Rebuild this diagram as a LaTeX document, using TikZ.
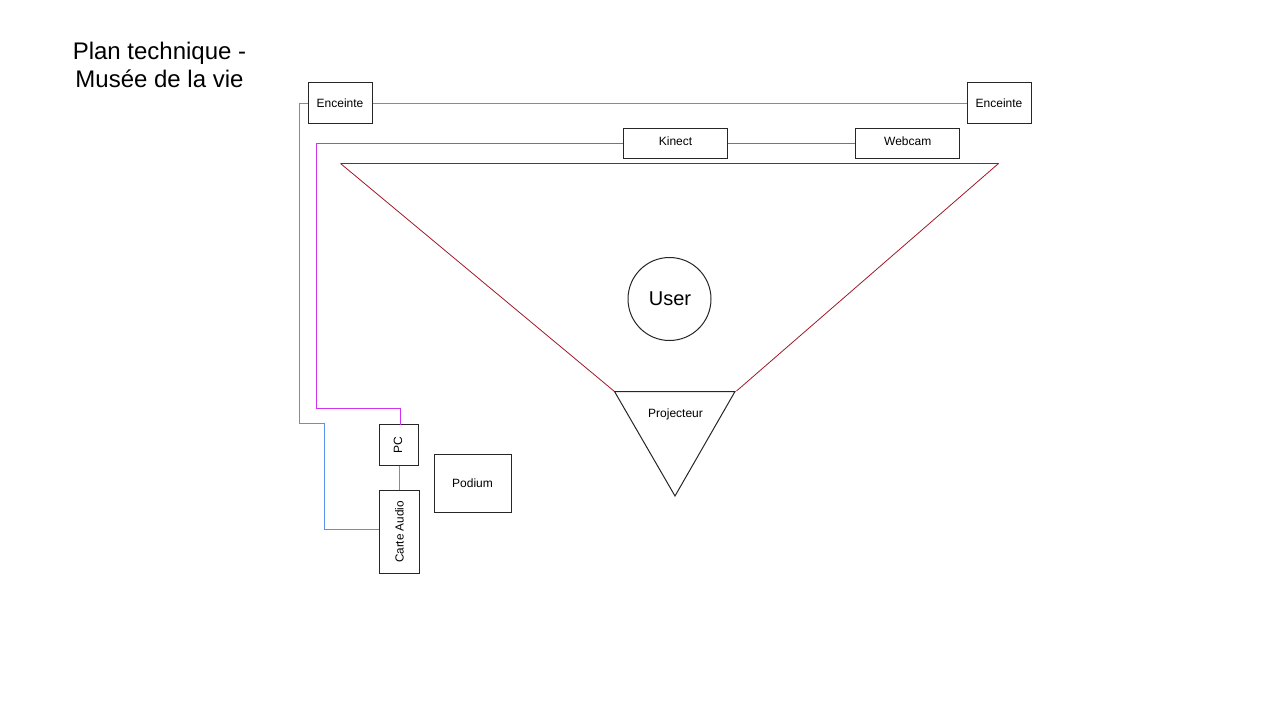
\documentclass[tikz,border=0pt]{standalone}
\usepackage{fontspec}
\setmainfont{Liberation Sans}
\definecolor{wireblue}{HTML}{5B8FF0}
\definecolor{wirepurple}{HTML}{D030F0}
\definecolor{beamred}{HTML}{A01828}
\definecolor{topred}{HTML}{E00000}
\tikzset{
  boxnode/.style={draw=black!85,line width=0.75pt,inner sep=0pt,font=\fontsize{9}{11}\selectfont,fill=white},
  bluewire/.style={draw=wireblue,line width=0.75pt},
  purplewire/.style={draw=wirepurple,line width=0.75pt},
  beam/.style={draw=beamred,line width=0.6pt},
  labelnode/.style={inner sep=0pt,font=\fontsize{9}{11}\selectfont}
}
\begin{document}
\begin{tikzpicture}[x=0.75pt,y=-0.75pt]
\useasboundingbox (0,0) rectangle (1280,720);
% title
\node[inner sep=0pt,align=center,font=\fontsize{18}{21}\selectfont] (title) at (159.5,65) {Plan technique -\\Musée de la vie};
% bends and corners
\coordinate (a1) at (299.5,103.5);
\coordinate (a2) at (299.5,423.5);
\coordinate (a3) at (324.5,423.5);
\coordinate (a4) at (324.5,529.5);
\coordinate (k1) at (316,143.5);
\coordinate (k2) at (316,408);
\coordinate (k3) at (400.7,408);
\coordinate (k4) at (400.7,424.5);
\coordinate (r1) at (340.5,163.5);
\coordinate (r2) at (998.5,163.5);
\coordinate (p1) at (614.5,391.5);
\coordinate (p2) at (735,391.5);
\coordinate (p3) at (675,496);
\coordinate (p2b) at (736.5,391);
% boxes
\node[boxnode,minimum width=48pt,minimum height=30.75pt] (encl) at (340,103) {Enceinte};
\node[boxnode,minimum width=48pt,minimum height=30.75pt] (encr) at (999,103) {Enceinte};
\node[boxnode,minimum width=78.5pt,minimum height=22.9pt] (kinect) at (675.5,143.3) {\raisebox{3pt}{Kinect}};
\node[boxnode,minimum width=78.4pt,minimum height=22.9pt] (webcam) at (907.7,143.3) {\raisebox{3pt}{Webcam}};
\node[boxnode,minimum width=29.6pt,minimum height=30.4pt] (pc) at (398.9,444.8) {\hspace*{-1.2pt}\rotatebox{90}{PC}};
\node[boxnode,minimum width=29.6pt,minimum height=62.25pt] (carte) at (399.4,532) {\rotatebox{90}{\fontsize{8.8}{11}\selectfont Carte Audio}};
\node[boxnode,minimum width=57.75pt,minimum height=43.5pt] (podium) at (472.5,483) {Podium};
\node[boxnode,circle,minimum size=62.25pt,font=\fontsize{15}{18}\selectfont] (user) at (669.5,299) {\hspace*{0.7pt}\raisebox{-0.6pt}{User}};
% wires
\draw[bluewire] (encl.east |- a1) -- (encr.west |- a1);
\draw[bluewire] (encl.west |- a1) -- (a1) -- (a2) -- (a3) -- (a4) -- (carte.west |- a4);
\draw[purplewire] (k4) -- (k3) -- (k2) -- (k1) -- (kinect.west |- k1);
\draw[purplewire] (kinect.east |- k1) -- (webcam.west |- k1);
\draw[bluewire] (pc.south -| 399.5,0) -- (carte.north -| 399.5,0);
% beam
\draw[beam] (p1) -- (r1);
\draw[beam] (p2b) -- (r2);
\draw[draw=topred,line width=0.75pt] (r1) -- (r2);
% projector
\draw[draw=black!85,line width=0.75pt,line join=miter] (p1) -- (p2) -- (p3) -- cycle;
\node[labelnode] (proj) at (675.5,414) {Projecteur};
\end{tikzpicture}
\end{document}
